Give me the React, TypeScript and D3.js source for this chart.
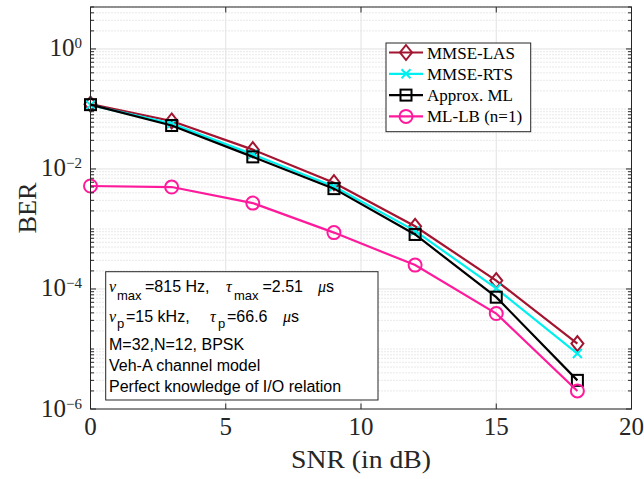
import React from 'react'
import * as d3 from 'd3'

// SNR points (dB) and BER values
const snr = [0, 3, 6, 9, 12, 15, 18]
const berMmseLas = [0.12, 0.063, 0.021, 0.0059, 0.00111, 1.38e-4, 1.23e-5]
const berMmseRts = [0.116, 0.057, 0.0175, 0.0051, 9.3e-4, 1.02e-4, 8.4e-6]
const berApproxMl = [0.118, 0.053, 0.0159, 0.0047, 8.1e-4, 7.3e-5, 3.0e-6]
const berMlLb = [0.0052, 0.005, 0.0027, 8.7e-4, 2.5e-4, 3.9e-5, 2.0e-6]

const xTicks = [0, 5, 10, 15, 20]
const yTickExps = [-6, -4, -2, 0]
const seriesNames = ['MMSE-LAS', 'MMSE-RTS', 'Approx. ML', 'ML-LB (n=1)']

const W = 644
const H = 479
const left = 90.5
const right = 631.5
const top = 7
const bottom = 409

const serif = '"Liberation Serif", "Times New Roman", serif'
const sans = '"Liberation Sans", Arial, sans-serif'
const axisColor = '#262626'

function Marker({ kind, x, y, color }) {
    if (kind === 'diamond') {
        return <path d={`M${x},${y - 7.5}L${x + 6},${y}L${x},${y + 7.5}L${x - 6},${y}Z`} fill="none" stroke={color} strokeWidth={2} />
    }
    if (kind === 'x') {
        return <path d={`M${x - 4.5},${y - 4.5}L${x + 4.5},${y + 4.5}M${x - 4.5},${y + 4.5}L${x + 4.5},${y - 4.5}`} stroke={color} strokeWidth={2} />
    }
    if (kind === 'square') {
        return <rect x={x - 5.5} y={y - 5.5} width={11} height={11} fill="none" stroke={color} strokeWidth={2} />
    }
    return <circle cx={x} cy={y} r={6.5} fill="none" stroke={color} strokeWidth={2} />
}

export default function App() {
    const x = d3.scaleLinear().domain([0, 20]).range([left, right])
    const y = d3.scaleLog().domain([1e-6, 5]).range([bottom, top])

    const series = [
        { name: seriesNames[0], values: berMmseLas, color: '#a2142f', marker: 'diamond' },
        { name: seriesNames[1], values: berMmseRts, color: '#00f0f0', marker: 'x' },
        { name: seriesNames[2], values: berApproxMl, color: '#000000', marker: 'square' },
        { name: seriesNames[3], values: berMlLb, color: '#ff1a9c', marker: 'circle' },
    ]

    const line = d3.line<[number, number]>()
        .x(d => x(d[0]))
        .y(d => y(d[1]))

    // log minor grid: every m*10^k that is not a labelled decade
    const minor: number[] = []
    for (let k = -6; k <= 0; k++) {
        for (let m = 1; m <= 9; m++) {
            const v = m * Math.pow(10, k)
            if (v > 5.001) continue
            if (m === 1 && yTickExps.includes(k)) continue
            minor.push(v)
        }
    }

    const legX = 386
    const legY = 43
    const legRow = 21.3

    return (
        <svg width={W} height={H} style={{ position: 'absolute', left: 0, top: 0 }}>
            <rect width={W} height={H} fill="#ffffff" />
            {/* grid */}
            <g>
                {minor.map((v, i) => (
                    <line key={'mg' + i} x1={left} x2={right} y1={y(v)} y2={y(v)} stroke="#d2d2d2" strokeWidth={1} strokeDasharray="1,2" />
                ))}
                {yTickExps.map(e => (
                    <line key={'yg' + e} x1={left} x2={right} y1={y(Math.pow(10, e))} y2={y(Math.pow(10, e))} stroke="#e2e2e2" strokeWidth={1} />
                ))}
                {xTicks.slice(1, -1).map(t => (
                    <line key={'xg' + t} x1={x(t)} x2={x(t)} y1={top} y2={bottom} stroke="#e2e2e2" strokeWidth={1} />
                ))}
            </g>
            {/* series */}
            {series.map(s => {
                const pts = snr.map((v, i) => [v, s.values[i]] as [number, number])
                return (
                    <g key={s.name}>
                        <path d={line(pts)} fill="none" stroke={s.color} strokeWidth={2.2} />
                        {pts.map((p, i) => <Marker key={i} kind={s.marker} x={x(p[0])} y={y(p[1])} color={s.color} />)}
                    </g>
                )
            })}
            {/* axes box and ticks */}
            <rect x={left} y={top} width={right - left} height={bottom - top} fill="none" stroke={axisColor} strokeWidth={1} />
            {xTicks.map(t => (
                <g key={'xt' + t}>
                    <line x1={x(t)} x2={x(t)} y1={bottom} y2={bottom - 5.5} stroke={axisColor} />
                    <line x1={x(t)} x2={x(t)} y1={top} y2={top + 5.5} stroke={axisColor} />
                    <text x={x(t)} y={435} textAnchor="middle" fontFamily={serif} fontSize={25} fill={axisColor}>{t}</text>
                </g>
            ))}
            {minor.map((v, i) => (
                <g key={'mt' + i}>
                    <line x1={left} x2={left + 3.5} y1={y(v)} y2={y(v)} stroke={axisColor} />
                    <line x1={right} x2={right - 3.5} y1={y(v)} y2={y(v)} stroke={axisColor} />
                </g>
            ))}
            {yTickExps.map(e => {
                const yy = y(Math.pow(10, e))
                return (
                    <g key={'yt' + e}>
                        <line x1={left} x2={left + 5.5} y1={yy} y2={yy} stroke={axisColor} />
                        <line x1={right} x2={right - 5.5} y1={yy} y2={yy} stroke={axisColor} />
                        <text x={82} y={yy + 7.5} textAnchor="end" fontFamily={serif} fill={axisColor}>
                            <tspan fontSize={25}>10</tspan>
                            <tspan fontSize={15} dy={-8}>{e < 0 ? '\u2212' + Math.abs(e) : e}</tspan>
                        </text>
                    </g>
                )
            })}
            <text x={(left + right) / 2} y={468} textAnchor="middle" fontFamily={serif} fontSize={25} fill={axisColor}
                textLength={140} lengthAdjust="spacingAndGlyphs">SNR (in dB)</text>
            <text transform={`translate(36,${(top + bottom) / 2}) rotate(-90)`} textAnchor="middle" fontFamily={serif} fontSize={25} fill={axisColor}
                textLength={51} lengthAdjust="spacingAndGlyphs">BER</text>

            {/* legend */}
            <rect x={legX} y={legY} width={144.7} height={88.7} fill="#ffffff" stroke={axisColor} strokeWidth={1} />
            {series.map((s, i) => {
                const ly = legY + 9.5 + legRow * i
                return (
                    <g key={'lg' + i}>
                        <line x1={legX + 3} x2={legX + 37} y1={ly} y2={ly} stroke={s.color} strokeWidth={2.2} />
                        <Marker kind={s.marker} x={legX + 20} y={ly} color={s.color} />
                        <text x={legX + 41} y={ly + 6} fontFamily={serif} fontSize={17} fill="#000">{s.name}</text>
                    </g>
                )
            })}

            {/* annotation */}
            <rect x={105.7} y={271.7} width={272.3} height={128.3} fill="#ffffff" stroke={axisColor} strokeWidth={1} />
            <g fontFamily={sans} fontSize={16} fill="#000">
                <text y={292}>
                    <tspan x={109} fontFamily={serif} fontStyle="italic">ν</tspan>
                    <tspan x={117} dy={8} fontSize={13}>max</tspan>
                    <tspan x={145} dy={-8}>=815 Hz,</tspan>
                    <tspan x={226} fontFamily={serif} fontStyle="italic">τ</tspan>
                    <tspan x={234} dy={8} fontSize={13}>max</tspan>
                    <tspan x={262.5} dy={-8}>=2.51</tspan>
                    <tspan x={318} fontFamily={serif} fontStyle="italic">μ</tspan>
                    <tspan>s</tspan>
                </text>
                <text y={321.7}>
                    <tspan x={109} fontFamily={serif} fontStyle="italic">ν</tspan>
                    <tspan x={117} dy={6} fontSize={13}>p</tspan>
                    <tspan x={126} dy={-6}>=15 kHz,</tspan>
                    <tspan x={210} fontFamily={serif} fontStyle="italic">τ</tspan>
                    <tspan x={218} dy={6} fontSize={13}>p</tspan>
                    <tspan x={227} dy={-6}>=66.6</tspan>
                    <tspan x={283} fontFamily={serif} fontStyle="italic">μ</tspan>
                    <tspan>s</tspan>
                </text>
                <text x={109} y={350}>M=32,N=12, BPSK</text>
                <text x={109} y={371}>Veh-A channel model</text>
                <text x={109} y={392.3}>Perfect knowledge of I/O relation</text>
            </g>
        </svg>
    )
}
